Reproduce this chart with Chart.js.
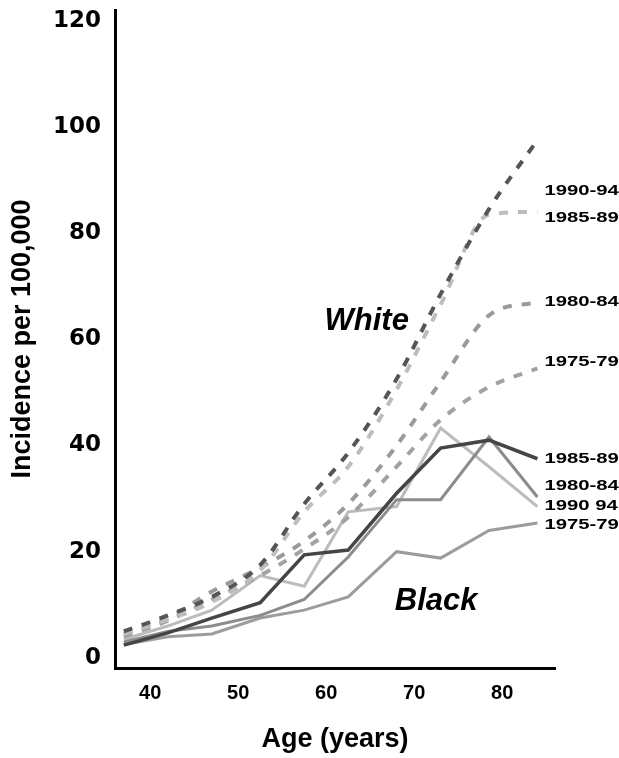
<!DOCTYPE html>
<html lang="en">
	<head>
		<meta charset="UTF-8" />
		<title>Incidence by age</title>
		<script src="https://cdn.jsdelivr.net/npm/chart.js"></script>
		<style>
			body { margin: 0; background: #fff; }
		</style>
	</head>

	<body>
		<canvas id="myChart" width="619" height="758"></canvas>
	</body>
	<script>
		// age group midpoints
		const ages = [37, 42, 47, 52.5, 57.5, 62.5, 68, 73, 78.5, 84];

		// White, dashed
		const white7579 = [4, 7, 11, 15.5, 20.5, 26.5, 36, 44.8, 51, 54.5];
		const white8084 = [4.5, 7.5, 12.5, 17, 22, 29, 40, 52, 64.5, 67];
		const white8589 = [4.5, 7.2, 10.5, 16.5, 27.5, 36, 50.5, 66.5, 83.5, 84];
		const white9094 = [5, 8, 11.5, 17.5, 29, 38.6, 52.5, 68.5, 84.5, 97.5];

		// Black, solid
		const black7579 = [2.5, 4, 4.5, 7.5, 9, 11.5, 20, 18.8, 24, 25.4];
		const black8084 = [3, 5, 6, 8, 11, 19, 29.8, 29.8, 41.6, 30.3];
		const black8589 = [2.4, 4.7, 7.5, 10.4, 19.4, 20.3, 31, 39.5, 41, 37.5];
		const black9094 = [3.5, 6, 9, 15.5, 13.5, 27.5, 28.5, 43.3, 36, 28.5];

		const xTicks = [40, 50, 60, 70, 80];
		const yTicks = [0, 20, 40, 60, 80, 100, 120];

		// period labels at the right of the lines
		const endLabels = ["1990-94", "1985-89", "1980-84", "1975-79", "1985-89", "1980-84", "1990 94", "1975-79"];
		const endLabelValues = [87.8, 82.9, 67, 55.6, 37.5, 32.4, 28.6, 25];

		const groupLabels = ["White", "Black"];
		const groupAges = [64.6, 72.5];
		const groupValues = [63.3, 10.7];

		const pts = (arr) => arr.map((v, i) => ({ x: ages[i], y: v }));

		const dashed = (arr, color) => ({
			data: pts(arr),
			borderColor: color,
			borderWidth: 4,
			borderDash: [9, 10],
			pointRadius: 0,
			cubicInterpolationMode: "monotone",
			fill: false,
		});
		const solid = (arr, color, w) => ({
			data: pts(arr),
			borderColor: color,
			borderWidth: w,
			pointRadius: 0,
			tension: 0,
			fill: false,
		});

		const textPlugin = {
			id: "texts",
			afterDatasetsDraw(chart) {
				const ctx = chart.ctx;
				const xs = chart.scales.x;
				const ys = chart.scales.y;
				ctx.save();
				ctx.fillStyle = "#000";
				ctx.textBaseline = "middle";
				ctx.textAlign = "center";
				ctx.font = "italic bold 31px 'Liberation Sans', Arial, sans-serif";
				groupLabels.forEach((t, i) => {
					ctx.fillText(t, xs.getPixelForValue(groupAges[i]), ys.getPixelForValue(groupValues[i]));
				});
				ctx.textAlign = "left";
				ctx.font = "bold 14px 'Liberation Sans', Arial, sans-serif";
				const lx = xs.getPixelForValue(ages[ages.length - 1]) + 7;
				endLabels.forEach((t, i) => {
					ctx.save();
					ctx.translate(lx, ys.getPixelForValue(endLabelValues[i]));
					ctx.scale(1.45, 1);
					ctx.fillText(t, 0, 0);
					ctx.restore();
				});
				ctx.restore();
			},
		};

		const ctx = document.getElementById("myChart");

		const myChart = new Chart(ctx, {
			type: "line",
			data: {
				datasets: [
					dashed(white9094, "#555555"),
					dashed(white8589, "#bdbdbd"),
					dashed(white8084, "#9a9a9a"),
					dashed(white7579, "#a2a2a2"),
					solid(black8589, "#454545", 3.5),
					solid(black8084, "#8c8c8c", 3),
					solid(black9094, "#bcbcbc", 3),
					solid(black7579, "#9c9c9c", 3),
				],
			},
			options: {
				responsive: false,
				animation: false,
				layout: { padding: { top: 10, right: 64, left: 0, bottom: 0 } },
				plugins: {
					legend: { display: false },
					tooltip: { enabled: false },
				},
				scales: {
					x: {
						type: "linear",
						min: 36,
						max: 86,
						afterBuildTicks: (s) => { s.ticks = xTicks.map((v) => ({ value: v })); },
						afterFit: (s) => { s.height = 90; s.paddingLeft = 0; s.paddingRight = 0; },
						grid: { display: false, drawTicks: false },
						border: { display: true, color: "#000", width: 3 },
						ticks: {
							padding: 13,
							color: "#000",
							font: { family: "'Liberation Sans', Arial, sans-serif", size: 20, weight: "bold" },
						},
						title: {
							display: true,
							text: "Age (years)",
							color: "#000",
							padding: { top: 0, bottom: 2 },
							font: { family: "'Liberation Sans', Arial, sans-serif", size: 27, weight: "bold" },
						},
					},
					y: {
						min: -1.9,
						max: 122,
						afterBuildTicks: (s) => { s.ticks = yTicks.map((v) => ({ value: v })); },
						afterFit: (s) => { s.width = 115; s.paddingTop = 0; s.paddingBottom = 0; },
						grid: { display: false, drawTicks: false },
						border: { display: true, color: "#000", width: 3 },
						ticks: {
							padding: 14,
							color: "#000",
							font: { family: "'DejaVu Sans', sans-serif", size: 23, weight: "bold" },
						},
						title: {
							display: true,
							text: "Incidence per 100,000",
							color: "#000",
							padding: { top: 6, bottom: 0 },
							font: { family: "'Liberation Sans', Arial, sans-serif", size: 27, weight: "bold" },
						},
					},
				},
			},
			plugins: [textPlugin],
		});
	</script>
</html>
